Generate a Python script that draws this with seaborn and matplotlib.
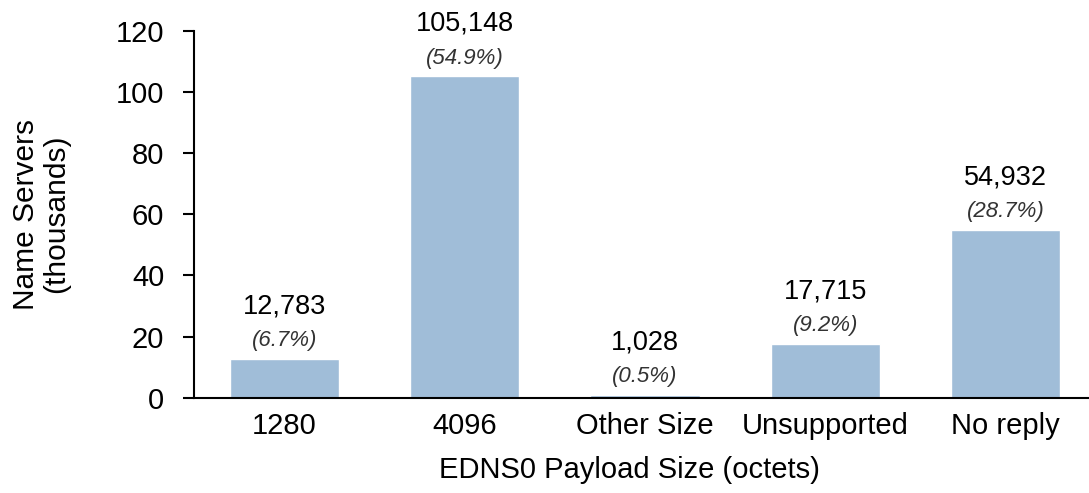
import matplotlib
matplotlib.use("Agg")
import matplotlib.pyplot as plt
import seaborn as sns
import pandas as pd

categories = ["1280", "4096", "Other Size", "Unsupported", "No reply"]
servers = [12783, 105148, 1028, 17715, 54932]
shares = [6.7, 54.9, 0.5, 9.2, 28.7]

sns.set_theme(style="white")
plt.rcParams["font.family"] = ["Liberation Sans", "DejaVu Sans"]
plt.rcParams["text.color"] = "black"
plt.rcParams["axes.labelcolor"] = "black"
plt.rcParams["xtick.color"] = "black"
plt.rcParams["ytick.color"] = "black"

df = pd.DataFrame({"category": categories, "thousands": [v / 1000 for v in servers]})

fig = plt.figure(figsize=(10.89, 4.93), dpi=100)
ax = fig.add_axes([0.17815, 0.1933, 0.82185, 0.7444])

sns.barplot(data=df, x="category", y="thousands", color="#a0bdd8",
            width=0.605, saturation=1, ax=ax)

for i, (v, p) in enumerate(zip(servers, shares)):
    h = v / 1000
    ax.annotate(f"({p}%)", (i, h), xytext=(0, 9), textcoords="offset points",
                ha="center", va="baseline", fontsize=16, style="italic", color="#333333")
    ax.annotate(f"{v:,}", (i, h), xytext=(0, 32.5), textcoords="offset points",
                ha="center", va="baseline", fontsize=19.5, color="black")

ax.set_ylim(0, 120)
ax.set_yticks(range(0, 121, 20))
ax.set_xlim(-0.502, 4.463)
ax.set_xlabel("EDNS0 Payload Size (octets)", fontsize=21, labelpad=12, x=0.487)
ax.set_ylabel("Name Servers\n(thousands)", fontsize=21.5, labelpad=33, linespacing=1.1)
ax.tick_params(axis="y", labelsize=21, length=8, width=1.5, left=True, color="black", pad=13.5)
ax.tick_params(axis="x", labelsize=21, length=0, pad=10)

sns.despine(ax=ax, top=True, right=True)
for s in ("left", "bottom"):
    ax.spines[s].set_color("black")
    ax.spines[s].set_linewidth(1.5)

fig.savefig("out.png", dpi=100)
